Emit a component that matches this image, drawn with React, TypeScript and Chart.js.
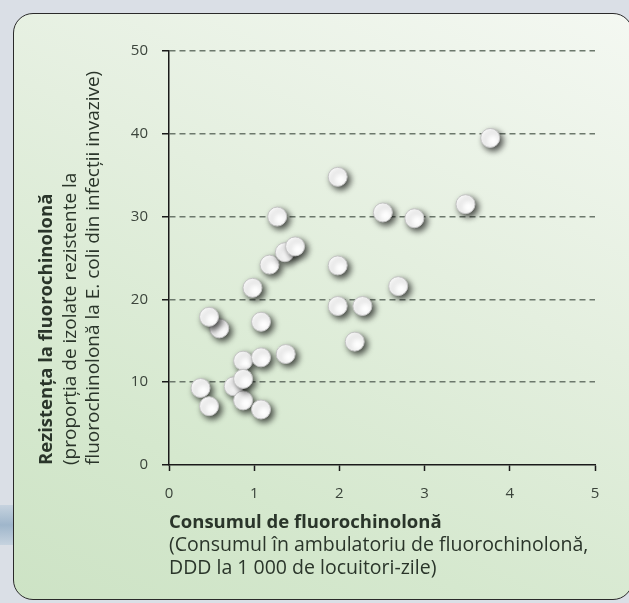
import React, { useEffect, useRef } from "react";
import { Chart, registerables } from "chart.js";

Chart.register(...registerables);

// Outpatient fluoroquinolone consumption (DDD per 1 000 inhabitants-day)
const consumption = [
  0.37, 0.47, 0.59, 0.47, 0.76, 0.87, 0.87, 0.87, 0.98, 1.08, 1.08, 1.08, 1.18, 1.27,
  1.36, 1.48, 1.37, 1.98, 1.98, 1.98, 2.18, 2.27, 2.51, 2.69, 2.88, 3.48, 3.77,
];
// Resistance (% of invasive E. coli isolates resistant to fluoroquinolones)
const resistance = [
  9.3, 7.1, 16.5, 17.9, 9.5, 7.8, 12.6, 10.4, 21.4, 6.7, 13.0, 17.3, 24.2, 30.0,
  25.7, 26.4, 13.4, 34.8, 24.1, 19.2, 14.9, 19.2, 30.5, 21.6, 29.8, 31.5, 39.5,
];

const xMin = 0;
const xMax = 5;
const yMin = 0;
const yMax = 50;
const xStep = 1;
const yStep = 10;

const xTitleLines = [
  "Consumul de fluorochinolonă",
  "(Consumul în ambulatoriu de fluorochinolonă,",
  "DDD la 1 000 de locuitori-zile)",
];
const yTitleLines = [
  "Rezistența la fluorochinolonă",
  "(proporția de izolate rezistente la",
  "fluorochinolonă la E. coli din infecții invazive)",
];

const FONT = "'Open Sans', 'Noto Sans', sans-serif";
const TEXT_COLOR = "#2a352a";

const shadowPlugin = {
  id: "pointShadow",
  beforeDatasetsDraw(chart: any) {
    const ctx = chart.ctx;
    ctx.save();
    ctx.shadowColor = "rgba(0,0,0,0.7)";
    ctx.shadowBlur = 6;
    ctx.shadowOffsetX = 3;
    ctx.shadowOffsetY = 3;
  },
  afterDatasetsDraw(chart: any) {
    chart.ctx.restore();
  },
};

const titlesPlugin = {
  id: "axisTitles",
  afterDraw(chart: any) {
    const ctx = chart.ctx;
    const area = chart.chartArea;
    ctx.save();
    ctx.fillStyle = TEXT_COLOR;
    ctx.textBaseline = "alphabetic";
    ctx.textAlign = "left";
    // x title
    const xLeft = area.left;
    const xBase = [528, 551, 574];
    xTitleLines.forEach((t, i) => {
      ctx.font = i === 0 ? "bold 18.5px " + FONT : "19.5px " + FONT;
      ctx.fillText(t, xLeft, xBase[i]);
    });
    // y title (rotated)
    const yBase = [52, 76, 99];
    yTitleLines.forEach((t, i) => {
      ctx.save();
      ctx.translate(yBase[i], area.bottom);
      ctx.rotate(-Math.PI / 2);
      ctx.font = i === 0 ? "bold 18.5px " + FONT : "19px " + FONT;
      ctx.fillText(t, 0, 0);
      ctx.restore();
    });
    ctx.restore();
  },
};

export default function App() {
  const canvasRef = useRef<HTMLCanvasElement | null>(null);

  useEffect(() => {
    const canvas = canvasRef.current;
    if (!canvas) return;
    const points = consumption.map((x, i) => ({ x, y: resistance[i] }));
    const chart = new Chart(canvas, {
      type: "scatter",
      data: {
        datasets: [
          {
            data: points,
            backgroundColor: "#ffffff",
            borderColor: "#c4c4c4",
            borderWidth: 1,
            pointRadius: 9.5,
            pointHoverRadius: 9.5,
            clip: false,
          } as any,
        ],
      },
      options: {
        responsive: false,
        animation: false,
        events: [],
        layout: { padding: { left: 109, right: 34, top: 51, bottom: 88 } },
        plugins: {
          legend: { display: false },
          tooltip: { enabled: false },
          title: { display: false },
        },
        scales: {
          x: {
            type: "linear",
            min: xMin,
            max: xMax,
            afterFit: (s: any) => {
              s.height = 50;
            },
            ticks: {
              stepSize: xStep,
              color: "#3b443b",
              font: { family: FONT, size: 15 },
              padding: 14,
            },
            grid: {
              drawOnChartArea: false,
              drawTicks: true,
              tickLength: 6,
              tickColor: "#1a1a1a",
              tickWidth: 1.5,
            },
            border: { display: true, color: "#1a1a1a", width: 1.5 },
          },
          y: {
            type: "linear",
            min: yMin,
            max: yMax,
            afterFit: (s: any) => {
              s.width = 60;
            },
            ticks: {
              stepSize: yStep,
              color: "#3b443b",
              font: { family: FONT, size: 15 },
              padding: 14,
            },
            grid: {
              drawOnChartArea: true,
              drawTicks: true,
              tickLength: 7,
              tickColor: "#1a1a1a",
              tickWidth: 1.5,
              tickBorderDash: [],
              lineWidth: 1.5,
              color: (c: any) =>
                c.tick && c.tick.value === 0 ? "rgba(0,0,0,0)" : "#6c786c",
            },
            border: { display: true, color: "#1a1a1a", width: 1.5, dash: [6, 4] },
          },
        },
      } as any,
      plugins: [shadowPlugin, titlesPlugin],
    });
    return () => chart.destroy();
  }, []);

  return (
    <div
      style={{
        position: "fixed",
        left: 0,
        top: 0,
        width: 629,
        height: 603,
        overflow: "hidden",
        background: "#dadfe6",
      }}
    >
      <div
        style={{
          position: "absolute",
          left: 0,
          top: 505,
          width: 14,
          height: 40,
          background: "linear-gradient(180deg, #c6d3df, #9fb6cb, #c6d3df)",
        }}
      />
      <div
        style={{
          position: "absolute",
          left: 13,
          top: 13,
          width: 620,
          height: 587,
          boxSizing: "border-box",
          border: "1.5px solid #2a2a2a",
          borderRadius: 20,
          background:
            "linear-gradient(205deg, #f4f8f2 0%, #e4efdf 40%, #d5e8ce 75%, #cde3c5 100%)",
        }}
      />
      <canvas
        ref={canvasRef}
        width={629}
        height={603}
        style={{ position: "absolute", left: 0, top: 0, width: 629, height: 603 }}
      />
    </div>
  );
}
